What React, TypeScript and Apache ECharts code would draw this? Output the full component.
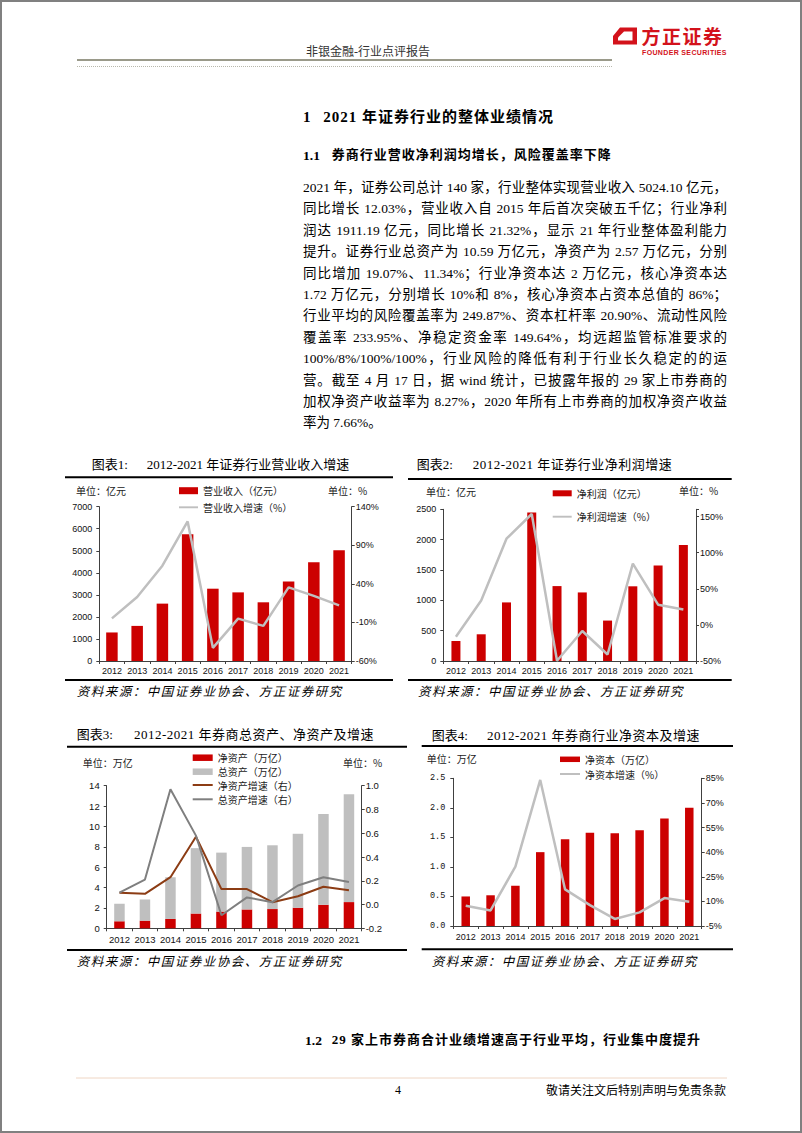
import React, { useEffect, useRef } from 'react';
import * as echarts from 'echarts';

// ---------- data ----------
const years = ['2012', '2013', '2014', '2015', '2016', '2017', '2018', '2019', '2020', '2021'];
const revenue = [1294.71, 1592.41, 2602.84, 5751.55, 3279.94, 3113.28, 2662.87, 3604.83, 4484.79, 5024.1];
const revenueGrowth = [-4.8, 22.99, 63.5, 120.97, -42.97, -5.08, -14.47, 35.37, 24.41, 12.03];
const netProfit = [329.3, 440.21, 965.54, 2447.63, 1234.45, 1129.95, 666.2, 1230.95, 1575.34, 1911.19];
const netProfitGrowth = [-16.4, 33.7, 119.3, 153.5, -49.6, -8.47, -41.04, 84.77, 27.98, 21.32];
const netAssets = [0.69, 0.75, 0.92, 1.45, 1.64, 1.85, 1.89, 2.02, 2.31, 2.57];
const totalAssets = [1.72, 2.08, 4.09, 6.42, 5.79, 6.14, 6.26, 7.26, 8.9, 10.59];
const netAssetsGrowth = [0.1, 0.09, 0.23, 0.57, 0.13, 0.13, 0.02, 0.07, 0.15, 0.12];
const totalAssetsGrowth = [0.1, 0.21, 0.97, 0.58, -0.09, 0.06, 0.02, 0.16, 0.23, 0.19];
const netCapital = [0.5, 0.52, 0.68, 1.25, 1.47, 1.58, 1.57, 1.62, 1.82, 2.0];
const netCapitalGrowth = [7.4, 4.5, 31.2, 84.0, 17.3, 7.7, -0.7, 3.3, 12.0, 9.8];

const paragraph = [
  '2021 年，证券公司总计 140 家，行业整体实现营业收入 5024.10 亿元，',
  '同比增长 12.03%，营业收入自 2015 年后首次突破五千亿；行业净利',
  '润达 1911.19 亿元，同比增长 21.32%，显示 21 年行业整体盈利能力',
  '提升。证券行业总资产为 10.59 万亿元，净资产为 2.57 万亿元，分别',
  '同比增加 19.07%、11.34%；行业净资本达 2 万亿元，核心净资本达',
  '1.72 万亿元，分别增长 10%和 8%，核心净资本占资本总值的 86%；',
  '行业平均的风险覆盖率为 249.87%、资本杠杆率 20.90%、流动性风险',
  '覆盖率 233.95%、净稳定资金率 149.64%，均远超监管标准要求的',
  '100%/8%/100%/100%，行业风险的降低有利于行业长久稳定的的运',
  '营。截至 4 月 17 日，据 wind 统计，已披露年报的 29 家上市券商的',
  '加权净资产收益率为 8.27%，2020 年所有上市券商的加权净资产收益',
  '率为 7.66%。',
];

// ---------- styles ----------
const RED = '#CC0000';
const LGRAY = '#BFBFBF';
const DGRAY = '#7F7F7F';
const BROWN = '#8C3C14';
const AX = '#404040';
const SERIF = "'Liberation Serif', 'Noto Sans CJK SC', serif";
const SANS = "'Liberation Sans', 'Noto Sans CJK SC', sans-serif";
const CJK = "'Noto Sans CJK SC', sans-serif";
const NUM = "'Liberation Sans', Arial, sans-serif";
const MONO = "'Liberation Mono', 'DejaVu Sans Mono', monospace";
const LINE_ICON = 'path://M0,0H20V2H0Z';

const lab = (size: number, family = NUM) => ({ color: '#111', fontSize: size, fontFamily: family });

function xAx(i: number, margin: number, size: number) {
  return {
    type: 'category', gridIndex: i, data: years,
    axisLine: { show: true, onZero: false, lineStyle: { color: AX, width: 1 } },
    axisTick: { show: true, length: 3, lineStyle: { color: AX } },
    axisLabel: { ...lab(size), margin, interval: 0 },
    splitLine: { show: false },
  };
}

function yAx(i: number, pos: string, min: number, max: number, interval: number, fmt: (v: number) => string, margin: number, family = NUM, size = 9) {
  return {
    type: 'value', gridIndex: i, position: pos, min, max, interval,
    axisLine: { show: true, lineStyle: { color: AX, width: 1 } },
    axisTick: { show: true, length: 3, lineStyle: { color: AX } },
    splitLine: { show: false },
    axisLabel: { ...lab(size, family), margin, formatter: fmt },
  };
}

function leg(name: string, left: number, cy: number, w: number, h: number, isBar: boolean) {
  return {
    data: [name], left, top: cy - 5, orient: 'horizontal', padding: 0,
    itemWidth: w, itemHeight: h, selectedMode: false,
    icon: isBar ? 'rect' : LINE_ICON,
    textStyle: { fontSize: 10, lineHeight: 10, color: '#222', fontFamily: CJK },
  };
}

const hline = (x1: number, x2: number, y: number, stroke: string, w: number, dash?: number[]) => ({
  type: 'line', silent: true,
  shape: { x1, y1: y, x2, y2: y },
  style: { stroke, lineWidth: w, lineDash: dash },
});

function buildOption(): any {
  return {
    animation: false,
    grid: [
      { left: 99.3, top: 506.7, width: 252.4, height: 154.3 },
      { left: 443.3, top: 509.3, width: 252.7, height: 151.7 },
      { left: 106.7, top: 785.7, width: 255, height: 142.6 },
      { left: 453.3, top: 778.3, width: 248.4, height: 147.7 },
    ],
    xAxis: [xAx(0, 5, 9), xAx(1, 5, 9), xAx(2, 6, 9.5), xAx(3, 6, 9)],
    yAxis: [
      yAx(0, 'left', 0, 7000, 1000, (v) => String(v), 7),
      yAx(0, 'right', -60, 140, 50, (v) => `${v}%`, 4),
      yAx(1, 'left', 0, 2500, 500, (v) => String(v), 7),
      yAx(1, 'right', -50, 160, 50, (v) => (v > 150 ? '' : `${v}%`), 4),
      yAx(2, 'left', 0, 14, 2, (v) => String(v), 7, NUM, 9.5),
      yAx(2, 'right', -0.2, 1.0, 0.2, (v) => v.toFixed(1), 4, NUM, 9.5),
      yAx(3, 'left', 0, 2.5, 0.5, (v) => v.toFixed(1), 8, MONO, 8.5),
      yAx(3, 'right', -5, 85, 15, (v) => `${v}%`, 4),
    ],
    legend: [
      leg('营业收入（亿元）', 179, 490.7, 19, 7, true),
      leg('营业收入增速（%）', 179, 507.3, 19, 2.5, false),
      leg('净利润（亿元）', 552.7, 493.3, 19, 6, true),
      leg('净利润增速（%）', 552.7, 516.7, 19, 2.5, false),
      leg('净资产（万亿）', 192.7, 757.7, 20, 6.5, true),
      leg('总资产（万亿）', 192.7, 771.7, 20, 6.5, true),
      leg('净资产增速（右）', 192.7, 785, 20, 2, false),
      leg('总资产增速（右）', 192.7, 799.3, 20, 2, false),
      leg('净资本（万亿）', 560, 759.3, 20, 5.5, true),
      leg('净资本增速（%）', 560, 774, 20, 2.5, false),
    ],
    series: [
      { name: '营业收入（亿元）', type: 'bar', xAxisIndex: 0, yAxisIndex: 0, data: revenue, barWidth: 11.5, itemStyle: { color: RED } },
      { name: '营业收入增速（%）', type: 'line', xAxisIndex: 0, yAxisIndex: 1, data: revenueGrowth, symbol: 'none', lineStyle: { color: LGRAY, width: 2.5 }, itemStyle: { color: LGRAY } },
      { name: '净利润（亿元）', type: 'bar', xAxisIndex: 1, yAxisIndex: 2, data: netProfit, barWidth: 9, itemStyle: { color: RED } },
      { name: '净利润增速（%）', type: 'line', xAxisIndex: 1, yAxisIndex: 3, data: netProfitGrowth, symbol: 'none', lineStyle: { color: LGRAY, width: 2.5 }, itemStyle: { color: LGRAY } },
      { name: '净资产（万亿）', type: 'bar', stack: 'c3', xAxisIndex: 2, yAxisIndex: 4, data: netAssets, barWidth: 10.5, itemStyle: { color: RED } },
      { name: '总资产（万亿）', type: 'bar', stack: 'c3', xAxisIndex: 2, yAxisIndex: 4, data: totalAssets, barWidth: 10.5, itemStyle: { color: LGRAY } },
      { name: '净资产增速（右）', type: 'line', xAxisIndex: 2, yAxisIndex: 5, data: netAssetsGrowth, symbol: 'none', lineStyle: { color: BROWN, width: 2 }, itemStyle: { color: BROWN } },
      { name: '总资产增速（右）', type: 'line', xAxisIndex: 2, yAxisIndex: 5, data: totalAssetsGrowth, symbol: 'none', lineStyle: { color: DGRAY, width: 2 }, itemStyle: { color: DGRAY } },
      { name: '净资本（万亿）', type: 'bar', xAxisIndex: 3, yAxisIndex: 6, data: netCapital, barWidth: 8.5, itemStyle: { color: RED } },
      { name: '净资本增速（%）', type: 'line', xAxisIndex: 3, yAxisIndex: 7, data: netCapitalGrowth, symbol: 'none', lineStyle: { color: LGRAY, width: 2.5 }, itemStyle: { color: LGRAY } },
    ],
    graphic: [
      { type: 'rect', silent: true, shape: { x: 1, y: 1, width: 800, height: 1131 }, style: { fill: 'none', stroke: '#808080', lineWidth: 2 } },
      hline(77, 612, 60, '#9a9a8a', 2),
      hline(77, 612, 66.5, '#b8b8ac', 1, [1, 1]),
      // logo icon
      { type: 'polygon', silent: true, shape: { points: [[620, 27.5], [637, 27.5], [637, 44.5], [613, 44.5], [613, 36]] }, style: { fill: '#D3121B' } },
      { type: 'polygon', silent: true, shape: { points: [[624, 31.5], [632.5, 31.5], [632.5, 40.5], [618, 40.5], [618, 37.5]] }, style: { fill: '#fff' } },
      // chart title rules and bottom rules
      hline(65, 393, 477.3, '#000', 2),
      hline(65, 393, 680, '#000', 2),
      hline(408, 731.7, 479, '#000', 2),
      hline(408, 731.7, 680, '#000', 2),
      hline(67, 407, 746.7, '#000', 2),
      hline(67, 407, 950, '#000', 2),
      hline(421.7, 733, 746, '#000', 2),
      hline(421.7, 733, 949.3, '#000', 2),
      // footer line
      hline(76, 727, 1078, '#EFD6C4', 1),
    ],
  };
}

type TP = { x: number; y: number; size: number; font?: string; bold?: boolean; italic?: boolean; ls?: number; color?: string; children: React.ReactNode };
const T = ({ x, y, size, font = SERIF, bold, italic, ls = 0, color = '#000', children }: TP) => (
  <div
    style={{
      position: 'absolute', left: x, top: y - size, height: size * 2, lineHeight: `${size * 2}px`,
      fontSize: size, fontFamily: font, fontWeight: bold ? 700 : 400, fontStyle: italic ? 'italic' : 'normal',
      letterSpacing: ls, color, whiteSpace: 'nowrap',
    }}
  >
    {children}
  </div>
);

export default function App() {
  const ref = useRef<HTMLDivElement>(null);
  useEffect(() => {
    const chart = echarts.init(ref.current!, null, { renderer: 'svg' });
    chart.setOption(buildOption());
    return () => chart.dispose();
  }, []);

  const lineTop = 188;
  const lineGap = 21.4;

  return (
    <div style={{ position: 'absolute', left: 0, top: 0, width: 802, height: 1133, background: '#fff', overflow: 'hidden' }}>
      <div ref={ref} style={{ position: 'absolute', left: 0, top: 0, width: 802, height: 1133 }} />

      {/* header */}
      <T x={306} y={52} size={12} color="#333">非银金融-行业点评报告</T>
      <T x={641.5} y={35.5} size={19} font={CJK} bold ls={1.5} color="#D3121B">方正证券</T>
      <T x={642} y={53.3} size={7} font={SANS} bold ls={0.35} color="#D3121B">FOUNDER SECURITIES</T>

      {/* section headings */}
      <T x={303} y={116.7} size={15} bold>1</T>
      <T x={323.3} y={116.7} size={15} bold ls={1}>2021 年证券行业的整体业绩情况</T>
      <T x={303} y={155} size={13.5} bold>1.1</T>
      <T x={331.7} y={155} size={13} bold ls={1}>券商行业营收净利润均增长，风险覆盖率下降</T>

      {/* paragraph */}
      {paragraph.map((l, i) => (
        <div
          key={i}
          style={{
            position: 'absolute', left: 303, width: 424, top: lineTop + i * lineGap - 11, height: 22, lineHeight: '22px',
            fontSize: 13.5, fontFamily: SERIF, color: '#000', whiteSpace: 'nowrap',
            textAlign: i === paragraph.length - 1 ? 'left' : 'justify',
            textAlignLast: i === paragraph.length - 1 ? 'left' : 'justify',
          } as any}
        >
          {l}
        </div>
      ))}

      {/* chart 1 texts */}
      <T x={91.7} y={465} size={13}>图表1:</T>
      <T x={146.7} y={465} size={13}>2012-2021 年证券行业营业收入增速</T>
      <T x={76} y={490.7} size={10} font={CJK} color="#222">单位：亿元</T>
      <T x={328} y={490.7} size={10} font={CJK} color="#222">单位：%</T>
      <T x={76.7} y={690} size={12.5} font={CJK} italic ls={1.5}>资料来源：中国证券业协会、方正证券研究</T>

      {/* chart 2 texts */}
      <T x={416.7} y={465} size={13}>图表2:</T>
      <T x={472.7} y={465} size={13} ls={0.5}>2012-2021 年证券行业净利润增速</T>
      <T x={426} y={491.7} size={10} font={CJK} color="#222">单位：亿元</T>
      <T x={679} y={491} size={10} font={CJK} color="#222">单位：%</T>
      <T x={418} y={690.7} size={12.5} font={CJK} italic ls={1.5}>资料来源：中国证券业协会、方正证券研究</T>

      {/* chart 3 texts */}
      <T x={76.7} y={735} size={13}>图表3:</T>
      <T x={134} y={735} size={13} ls={0.5}>2012-2021 年券商总资产、净资产及增速</T>
      <T x={82.7} y={762.7} size={10} font={CJK} color="#222">单位：万亿</T>
      <T x={343} y={762.7} size={10} font={CJK} color="#222">单位：%</T>
      <T x={76.7} y={960} size={12.5} font={CJK} italic ls={1.5}>资料来源：中国证券业协会、方正证券研究</T>

      {/* chart 4 texts */}
      <T x={431.7} y={735.7} size={13}>图表4:</T>
      <T x={487} y={735.7} size={13} ls={0.5}>2012-2021 年券商行业净资本及增速</T>
      <T x={426.7} y={759.3} size={10} font={CJK} color="#222">单位：万亿</T>
      <T x={431.7} y={960} size={12.5} font={CJK} italic ls={1.5}>资料来源：中国证券业协会、方正证券研究</T>

      {/* section 1.2 */}
      <T x={305} y={1040} size={13.5} bold>1.2</T>
      <T x={331.7} y={1040} size={13} bold ls={1}>29 家上市券商合计业绩增速高于行业平均，行业集中度提升</T>

      {/* footer */}
      <T x={395} y={1090} size={12}>4</T>
      <T x={546} y={1090} size={12} font={CJK}>敬请关注文后特别声明与免责条款</T>
    </div>
  );
}
